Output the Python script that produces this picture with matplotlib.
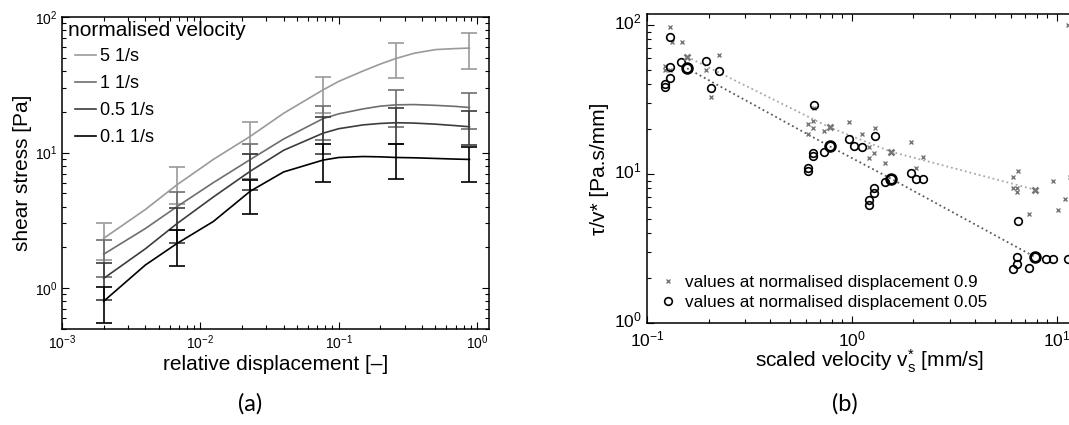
import numpy as np
import matplotlib.pyplot as plt
from matplotlib.transforms import ScaledTranslation

plt.rcParams['font.family'] = ['Liberation Sans', 'DejaVu Sans']
plt.rcParams['mathtext.fontset'] = 'custom'
plt.rcParams['mathtext.rm'] = 'Liberation Sans'
plt.rcParams['mathtext.it'] = 'Liberation Sans:italic'
plt.rcParams['mathtext.default'] = 'regular'

# ---- (a) shear stress against relative displacement ----
disp = [0.002, 0.004, 0.0068, 0.0124, 0.023, 0.04, 0.077, 0.1, 0.15,
        0.2, 0.26, 0.35, 0.5, 0.7, 0.88]
stress_5 = [2.33, 3.8, 5.8, 8.9, 13.2, 19.5, 29.0, 33.5, 40.0,
            45.0, 49.5, 54.0, 57.5, 58.5, 59.0]
stress_1 = [1.78, 2.75, 4.0, 6.0, 8.9, 12.6, 17.8, 19.3, 21.0,
            22.0, 22.5, 22.6, 22.3, 21.9, 21.5]
stress_05 = [1.18, 1.95, 3.0, 4.7, 7.3, 10.4, 13.9, 15.0, 16.0,
             16.4, 16.6, 16.5, 16.2, 15.8, 15.5]
stress_01 = [0.80, 1.48, 2.14, 3.1, 5.2, 7.2, 8.8, 9.2, 9.35,
             9.3, 9.2, 9.15, 9.05, 8.95, 8.9]

# error bars sit on selected curve points
err_idx = [0, 2, 4, 6, 10, 14]
lo_5 = [1.6, 4.15, 9.8, 19.7, 35.6, 41.5]
hi_5 = [3.0, 7.8, 16.9, 36.4, 64.0, 76.0]
lo_1 = [1.2, 2.7, 6.4, 12.3, 15.5, 15.0]
hi_1 = [2.25, 5.1, 11.6, 22.0, 29.0, 27.7]
lo_05 = [0.82, 2.14, 5.3, 9.8, 11.6, 11.3]
hi_05 = [1.53, 3.9, 9.7, 18.4, 21.4, 20.4]
lo_01 = [0.55, 1.45, 3.5, 6.1, 6.4, 6.1]
hi_01 = [1.02, 2.7, 6.3, 11.6, 11.6, 11.0]

labels_a = ['5 1/s', '1 1/s', '0.5 1/s', '0.1 1/s']
greys = ['#9a9a9a', '#6e6e6e', '#3c3c3c', '#000000']

# ---- (b) tau / v* against scaled velocity ----
v_09 = [0.129, 0.132, 0.148, 0.122, 0.122, 0.129, 0.194, 0.205, 0.224,
        0.61, 0.61, 0.645, 0.645, 0.653, 0.73, 0.967, 1.12, 1.22, 1.22,
        1.29, 1.3, 1.46, 1.94, 2.05, 2.22,
        6.1, 6.5, 6.1, 6.4, 6.4, 7.3, 9.6, 10.2, 11.0, 11.6, 11.4]
t_09 = [97, 77, 77, 53, 49.6, 50, 50, 33, 62.8,
        21.5, 18.5, 22.5, 20.2, 27.6, 19.3, 22.2, 18.5, 15.1, 12.7,
        13.7, 20.2, 11.9, 16.3, 10.9, 12.9,
        9.6, 10.4, 8.1, 8.0, 7.6, 5.4, 9.0, 5.7, 6.8, 9.6, 100]
v_005 = [0.129, 0.129, 0.129, 0.122, 0.122, 0.146, 0.194, 0.205, 0.224,
         0.653, 0.61, 0.61, 0.645, 0.645, 0.73, 0.967, 1.02, 1.12, 1.3,
         1.22, 1.22, 1.29, 1.29, 1.46, 1.94, 2.05, 2.22,
         6.5, 6.4, 6.4, 6.1, 7.3, 8.9, 9.6, 11.4]
t_005 = [83, 52, 44, 40, 38, 56, 57, 37.7, 49,
         28.9, 11.0, 10.4, 13.7, 13.1, 14.1, 17.1, 15.3, 15.1, 17.9,
         6.7, 6.2, 8.1, 7.5, 8.8, 10.1, 9.3, 9.2,
         4.86, 2.78, 2.5, 2.31, 2.35, 2.7, 2.7, 2.7]

# mean values joined by the dotted trend lines
v_mean = [0.157, 0.78, 1.55, 7.8]
t_mean_09 = [61, 20.5, 14.1, 7.85]
t_mean_005 = [51, 15.3, 9.3, 2.78]


def style_log_axes(ax, labelsize):
    ax.set_xscale('log')
    ax.set_yscale('log')
    ax.tick_params(which='both', direction='in', top=True, right=True,
                   labelsize=labelsize, width=0.8)
    ax.tick_params(which='major', length=5)
    ax.tick_params(which='minor', length=3)
    for sp in ax.spines.values():
        sp.set_linewidth(1.1)


fig = plt.figure(figsize=(10.69, 4.25), dpi=100)

ax1 = fig.add_axes([0.058, 0.226, 0.3995, 0.734])
style_log_axes(ax1, 10)
curves = [stress_5, stress_1, stress_05, stress_01]
lows = [lo_5, lo_1, lo_05, lo_01]
highs = [hi_5, hi_1, hi_05, hi_01]
for ys, lo, hi, lab, col in zip(curves, lows, highs, labels_a, greys):
    ax1.plot(disp, ys, color=col, lw=1.2, label=lab)
    xe = [disp[i] for i in err_idx]
    ye = np.array([ys[i] for i in err_idx])
    yerr = [ye - np.array(lo), np.array(hi) - ye]
    ax1.errorbar(xe, ye, yerr=yerr, fmt='none', ecolor=col, elinewidth=1.2,
                 capsize=5.5, capthick=1.2)
ax1.set_xlim(1e-3, 1.22)
ax1.set_ylim(0.5, 100)
ax1.set_xlabel('relative displacement [\u2013]', fontsize=15, labelpad=2)
ax1.set_ylabel('shear stress [Pa]', fontsize=15, labelpad=2)
ax1.text(0.014, 0.958, 'normalised velocity', transform=ax1.transAxes,
         fontsize=15, ha='left', va='center')
ax1.legend(loc='upper left', bbox_to_anchor=(0.03, 0.90), frameon=False,
           fontsize=13, handlelength=1.2, handletextpad=0.17,
           labelspacing=0.55, borderaxespad=0, borderpad=0)

ax2 = fig.add_axes([0.6052, 0.24, 0.417, 0.727])
style_log_axes(ax2, 12.5)
ax2.tick_params(axis='x', which='major', pad=4.5)
ax2.plot(v_mean, t_mean_09, ls=':', color='#a8a8a8', lw=1.3)
ax2.plot(v_mean, t_mean_005, ls=':', color='#5a5a5a', lw=1.3)
ax2.plot(v_09, t_09, ls='none', marker='x', ms=3.5, mew=1.0, color='#777777',
         label='values at normalised displacement 0.9')
ax2.plot(v_005, t_005, ls='none', marker='o', ms=5.5, mew=1.2, mfc='none',
         color='black', label='values at normalised displacement 0.05')
ax2.plot(v_mean, t_mean_09, ls='none', marker='x', ms=4.5, mew=1.8, color='#777777')
ax2.plot(v_mean, t_mean_005, ls='none', marker='o', ms=7, mew=2.0, mfc='none',
         color='black')
ax2.set_xlim(0.1, 15)
ax2.set_ylim(1, 118)
ax2.set_xlabel(r'scaled velocity v$^{*}_{s}$ [mm/s]', fontsize=15, labelpad=-1)
ax2.set_ylabel('\u03c4/v* [Pa.s/mm]', fontsize=15, labelpad=4)
ax2.legend(loc='lower left', bbox_to_anchor=(0.028, 0.042), frameon=False,
           fontsize=12.3, handlelength=1.0, handletextpad=0.5,
           labelspacing=0.3, borderaxespad=0, borderpad=0)

# lift the y tick labels a little so 10^0 clears the 10^-1 below it
lift = ScaledTranslation(0, 3 / 72, fig.dpi_scale_trans)
for lbl in ax2.get_yticklabels():
    lbl.set_transform(lbl.get_transform() + lift)

fig.text(0.234, 0.05, '(a)', fontsize=17, family='Lato', ha='center', va='center')
fig.text(0.79, 0.05, '(b)', fontsize=17, family='Lato', ha='center', va='center')

fig.savefig('out.png', dpi=100)
